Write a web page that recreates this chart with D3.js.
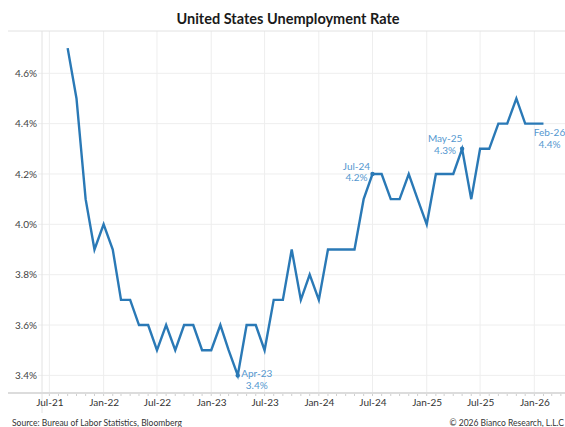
<!DOCTYPE html>
<html>
<head>
<meta charset="utf-8">
<script src="https://cdn.jsdelivr.net/npm/d3@7"></script>
<style>
  html, body { margin: 0; padding: 0; background: #fff; }
  svg { display: block; font-family: Lato, "Open Sans", sans-serif; }
</style>
</head>
<body>
<svg id="chart" width="565" height="427"></svg>
<script>
// Monthly unemployment rate, Sep-21 through Feb-26 (percent)
const months = [
  "2021-09","2021-10","2021-11","2021-12",
  "2022-01","2022-02","2022-03","2022-04","2022-05","2022-06","2022-07","2022-08","2022-09","2022-10","2022-11","2022-12",
  "2023-01","2023-02","2023-03","2023-04","2023-05","2023-06","2023-07","2023-08","2023-09","2023-10","2023-11","2023-12",
  "2024-01","2024-02","2024-03","2024-04","2024-05","2024-06","2024-07","2024-08","2024-09","2024-10","2024-11","2024-12",
  "2025-01","2025-02","2025-03","2025-04","2025-05","2025-06","2025-07","2025-08","2025-09","2025-10","2025-11","2025-12",
  "2026-01","2026-02"
];
const rates = [
  4.7, 4.5, 4.1, 3.9,
  4.0, 3.9, 3.7, 3.7, 3.6, 3.6, 3.5, 3.6, 3.5, 3.6, 3.6, 3.5,
  3.5, 3.6, 3.5, 3.4, 3.6, 3.6, 3.5, 3.7, 3.7, 3.9, 3.7, 3.8,
  3.7, 3.9, 3.9, 3.9, 3.9, 4.1, 4.2, 4.2, 4.1, 4.1, 4.2, 4.1,
  4.0, 4.2, 4.2, 4.2, 4.3, 4.1, 4.3, 4.3, 4.4, 4.4, 4.5, 4.4,
  4.4, 4.4
];
const yTicks = [3.4, 3.6, 3.8, 4.0, 4.2, 4.4, 4.6];
const xTickLabels = ["Jul-21","Jan-22","Jul-22","Jan-23","Jul-23","Jan-24","Jul-24","Jan-25","Jul-25","Jan-26"];
const xTickMonths = ["2021-07","2022-01","2022-07","2023-01","2023-07","2024-01","2024-07","2025-01","2025-07","2026-01"];
// Highlighted observations
const calloutMonths = ["2023-04","2024-07","2025-05","2026-02"];
const calloutNames = ["Apr-23","Jul-24","May-25","Feb-26"];
const calloutDots = [true, true, true, false];

const parse = d3.timeParse("%Y-%m");
const data = months.map((m, i) => ({ date: parse(m), value: rates[i] }));

const svg = d3.select("#chart");
const W = 565, H = 427;
const plot = { left: 42, right: 565, top: 31, bottom: 393 };

const x = d3.scaleTime()
  .domain([new Date(2021, 5, 6), new Date(2026, 3, 15)])
  .range([plot.left, plot.right]);
const y = d3.scaleLinear()
  .domain([3.33, 4.768])
  .range([plot.bottom, plot.top]);

const lineColor = "#2a79b6";
const labelColor = "#5497cf";
const gridColor = "#eeeeee";

// Title
svg.append("text")
  .attr("x", 288).attr("y", 24)
  .attr("text-anchor", "middle")
  .attr("font-size", 14.5).attr("font-weight", 700)
  .attr("fill", "#1a1a1a")
  .text("United States Unemployment Rate");

// Horizontal gridlines
svg.append("g").selectAll("line").data(yTicks).join("line")
  .attr("x1", plot.left - 4).attr("x2", plot.right)
  .attr("y1", d => y(d)).attr("y2", d => y(d))
  .attr("stroke", gridColor).attr("stroke-width", 1);

// Vertical gridlines at labelled months
svg.append("g").selectAll("line").data(xTickMonths).join("line")
  .attr("x1", d => x(parse(d))).attr("x2", d => x(parse(d)))
  .attr("y1", plot.top).attr("y2", plot.bottom)
  .attr("stroke", gridColor).attr("stroke-width", 1);

// Frame: top rule, bottom axis rule, left axis rule
svg.append("line")
  .attr("x1", 8).attr("x2", W).attr("y1", plot.top).attr("y2", plot.top)
  .attr("stroke", "#e2e2e2").attr("stroke-width", 1);
svg.append("line")
  .attr("x1", plot.left).attr("x2", plot.left).attr("y1", plot.top).attr("y2", 413)
  .attr("stroke", "#e2e2e2").attr("stroke-width", 1);
svg.append("line")
  .attr("x1", 8).attr("x2", W).attr("y1", plot.bottom).attr("y2", plot.bottom)
  .attr("stroke", "#dcdcdc").attr("stroke-width", 2);

// Monthly minor ticks on the x axis
const minor = d3.timeMonth.range(new Date(2021, 5, 1), new Date(2026, 3, 16));
svg.append("g").selectAll("line").data(minor.filter(d => x(d) >= plot.left)).join("line")
  .attr("x1", d => x(d)).attr("x2", d => x(d))
  .attr("y1", plot.bottom + 1).attr("y2", plot.bottom + 3)
  .attr("stroke", "#cfcfcf").attr("stroke-width", 1);

// Y axis labels
const yAxis = d3.axisLeft(y).tickValues(yTicks)
  .tickFormat(d => d3.format(".1f")(d) + "%").tickSize(0).tickPadding(5);
const gy = svg.append("g").attr("transform", `translate(${plot.left},0)`).call(yAxis);
gy.select(".domain").remove();
gy.selectAll("text").attr("font-size", 10).attr("fill", "#444")
  .attr("font-family", "Lato, sans-serif");

// X axis labels
const xAxis = d3.axisBottom(x).tickValues(xTickMonths.map(parse))
  .tickFormat((d, i) => xTickLabels[i]).tickSize(0).tickPadding(6);
const gx = svg.append("g").attr("transform", `translate(0,${plot.bottom})`).call(xAxis);
gx.select(".domain").remove();
gx.selectAll("text").attr("font-size", 10).attr("fill", "#333")
  .attr("font-family", "Lato, sans-serif");

// Rate line
const line = d3.line().x(d => x(d.date)).y(d => y(d.value));
svg.append("path").datum(data)
  .attr("d", line)
  .attr("fill", "none")
  .attr("stroke", lineColor)
  .attr("stroke-width", 2.4)
  .attr("stroke-linejoin", "miter");

// Callouts
const offsets = [
  { dx: 19, dy: 2 },
  { dx: -16, dy: -4 },
  { dx: -17, dy: -6.5 },
  { dx: 6, dy: 12.5 }
];
calloutMonths.forEach((m, i) => {
  const d = data.find(p => +p.date === +parse(m));
  const px = x(d.date), py = y(d.value);
  if (calloutDots[i]) {
    svg.append("circle").attr("cx", px).attr("cy", py).attr("r", 2.2).attr("fill", lineColor);
  }
  const t = svg.append("text")
    .attr("text-anchor", "middle")
    .attr("font-size", 10).attr("fill", labelColor)
    .attr("font-family", "Lato, sans-serif");
  t.append("tspan").attr("x", px + offsets[i].dx).attr("y", py + offsets[i].dy)
    .text(calloutNames[i]);
  t.append("tspan").attr("x", px + offsets[i].dx).attr("y", py + offsets[i].dy + 11.5)
    .text(d3.format(".1f")(d.value) + "%");
});

// Footer
svg.append("text")
  .attr("x", 12).attr("y", 426)
  .attr("font-size", 8.5).attr("fill", "#333")
  .text("Source: Bureau of Labor Statistics, Bloomberg");
svg.append("text")
  .attr("x", 564).attr("y", 426)
  .attr("text-anchor", "end")
  .attr("font-size", 8.5).attr("fill", "#333")
  .text("© 2026 Bianco Research, L.L.C");
</script>
</body>
</html>
